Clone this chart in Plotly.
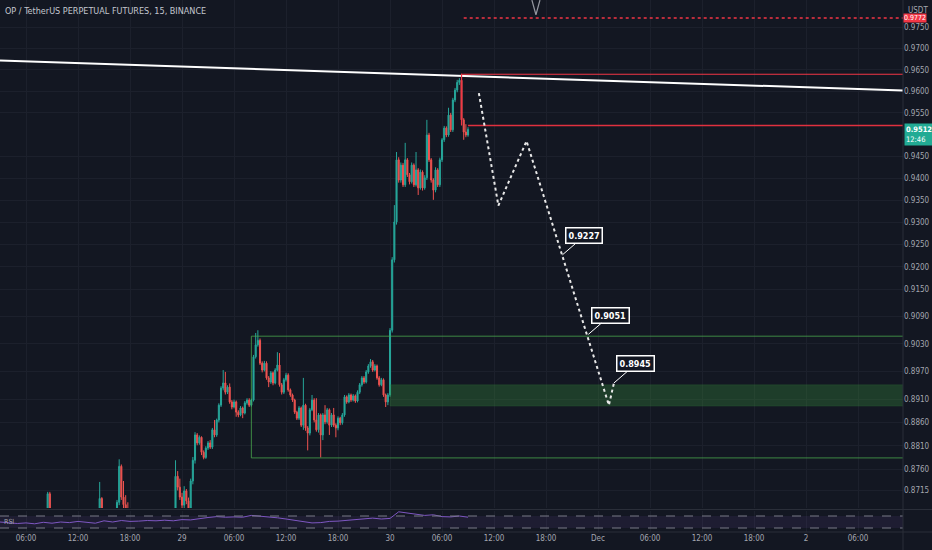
import numpy as np
import pandas as pd
import plotly.graph_objects as go
from plotly.subplots import make_subplots

# OPUSDT perp, 15m candles from 28 Nov 03:00 to 30 Nov 09:00
candle_start = "2022-11-28 03:00"
first_open = 0.8632
close = [
    0.8640, 0.8648, 0.8637, 0.8629, 0.8641, 0.8652, 0.8644, 0.8633, 0.8625, 0.8618,
    0.8630, 0.8642, 0.8636, 0.8647, 0.8655, 0.8649, 0.8640, 0.8646, 0.8652, 0.8645,
    0.8650, 0.8656, 0.8708, 0.8662, 0.8654, 0.8648, 0.8641, 0.8635, 0.8643, 0.8637,
    0.8628, 0.8620, 0.8626, 0.8634, 0.8630, 0.8639, 0.8645, 0.8638, 0.8644, 0.8651,
    0.8646, 0.8640, 0.8647, 0.8655, 0.8649, 0.8658, 0.8698, 0.8660, 0.8652, 0.8646,
    0.8653, 0.8647, 0.8655, 0.8660, 0.8690, 0.8766, 0.8701, 0.8685, 0.8672, 0.8664,
    0.8656, 0.8648, 0.8654, 0.8645, 0.8637, 0.8642, 0.8650, 0.8644, 0.8636, 0.8628,
    0.8634, 0.8641, 0.8635, 0.8643, 0.8650, 0.8645, 0.8639, 0.8646, 0.8653, 0.8660,
    0.8664, 0.8745, 0.8722, 0.8701, 0.8684, 0.8714, 0.8693, 0.8676, 0.8735, 0.8779,
    0.8833, 0.8816, 0.8828, 0.8796, 0.8785, 0.8805, 0.8816, 0.8807, 0.8844, 0.8833,
    0.8865, 0.8897, 0.8934, 0.8945, 0.8925, 0.8936, 0.8904, 0.8893, 0.8904, 0.8882,
    0.8876, 0.8891, 0.8880, 0.8902, 0.8908, 0.8897, 0.8908, 0.9002, 0.9028, 0.9038,
    0.8988, 0.8973, 0.8988, 0.8956, 0.8947, 0.8967, 0.8945, 0.8973, 0.8984, 0.8941,
    0.8925, 0.8952, 0.8962, 0.8930, 0.8919, 0.8908, 0.8882, 0.8869, 0.8891, 0.8854,
    0.8897, 0.8848, 0.8837, 0.8887, 0.8908, 0.8865, 0.8844, 0.8876, 0.8833, 0.8876,
    0.8861, 0.8887, 0.8854, 0.8876, 0.8854, 0.8848, 0.8869, 0.8859, 0.8876, 0.8915,
    0.8904, 0.8919, 0.8908, 0.8917, 0.8906, 0.8925, 0.8941, 0.8956, 0.8947, 0.8969,
    0.8982, 0.8991, 0.8973, 0.8982, 0.8956, 0.8941, 0.8952, 0.8919, 0.8904, 0.8919,
    0.9060, 0.9216, 0.9301, 0.9442, 0.9396, 0.9430, 0.9385, 0.9442, 0.9408, 0.9392,
    0.9430, 0.9385, 0.9419, 0.9378, 0.9414, 0.9378, 0.9401, 0.9499, 0.9442, 0.9396,
    0.9373, 0.9419, 0.9385, 0.9442, 0.9488, 0.9515, 0.9499, 0.9545, 0.9511, 0.9580,
    0.9603, 0.9621, 0.9626, 0.9534, 0.9506, 0.9499, 0.9512,
]
high = [
    0.8652, 0.8655, 0.8651, 0.8642, 0.8648, 0.8660, 0.8658, 0.8649, 0.8640, 0.8631,
    0.8637, 0.8650, 0.8648, 0.8655, 0.8666, 0.8661, 0.8654, 0.8657, 0.8663, 0.8660,
    0.8662, 0.8668, 0.8712, 0.8712, 0.8672, 0.8661, 0.8655, 0.8648, 0.8650, 0.8651,
    0.8642, 0.8635, 0.8633, 0.8641, 0.8645, 0.8647, 0.8653, 0.8651, 0.8655, 0.8660,
    0.8658, 0.8652, 0.8656, 0.8663, 0.8664, 0.8665, 0.8733, 0.8701, 0.8666, 0.8659,
    0.8661, 0.8660, 0.8664, 0.8670, 0.8695, 0.8781, 0.8770, 0.8735, 0.8705, 0.8690,
    0.8675, 0.8662, 0.8661, 0.8660, 0.8650, 0.8649, 0.8658, 0.8657, 0.8650, 0.8641,
    0.8640, 0.8648, 0.8647, 0.8651, 0.8658, 0.8657, 0.8651, 0.8654, 0.8662, 0.8667,
    0.8671, 0.8779, 0.8756, 0.8740, 0.8710, 0.8724, 0.8718, 0.8700, 0.8740, 0.8786,
    0.8839, 0.8837, 0.8832, 0.8830, 0.8800, 0.8809, 0.8820, 0.8822, 0.8848, 0.8865,
    0.8868, 0.8901, 0.8938, 0.8973, 0.8969, 0.8940, 0.8944, 0.8908, 0.8909, 0.8907,
    0.8886, 0.8895, 0.8894, 0.8906, 0.8912, 0.8912, 0.8911, 0.9006, 0.9054, 0.9060,
    0.9042, 0.8992, 0.8993, 0.8992, 0.8960, 0.8971, 0.8970, 0.8977, 0.9012, 0.9010,
    0.8945, 0.8956, 0.8967, 0.8966, 0.8933, 0.8922, 0.8911, 0.8885, 0.8895, 0.8894,
    0.8956, 0.8900, 0.8852, 0.8891, 0.8919, 0.8912, 0.8912, 0.8880, 0.8879, 0.8880,
    0.8897, 0.8891, 0.8890, 0.8880, 0.8891, 0.8858, 0.8873, 0.8872, 0.8880, 0.8919,
    0.8918, 0.8923, 0.8922, 0.8921, 0.8920, 0.8929, 0.8945, 0.8960, 0.8960, 0.8973,
    0.8986, 0.8997, 0.8995, 0.8986, 0.8985, 0.8960, 0.8956, 0.8955, 0.8922, 0.8923,
    0.9065, 0.9222, 0.9339, 0.9460, 0.9448, 0.9436, 0.9435, 0.9481, 0.9446, 0.9412,
    0.9436, 0.9434, 0.9460, 0.9423, 0.9420, 0.9418, 0.9407, 0.9534, 0.9504, 0.9446,
    0.9400, 0.9425, 0.9423, 0.9447, 0.9492, 0.9520, 0.9519, 0.9562, 0.9550, 0.9585,
    0.9608, 0.9627, 0.9631, 0.9641, 0.9538, 0.9524, 0.9517,
]
low = [
    0.8625, 0.8635, 0.8630, 0.8618, 0.8624, 0.8638, 0.8636, 0.8627, 0.8612, 0.8605,
    0.8612, 0.8626, 0.8628, 0.8630, 0.8642, 0.8640, 0.8633, 0.8634, 0.8641, 0.8638,
    0.8639, 0.8644, 0.8650, 0.8655, 0.8645, 0.8640, 0.8632, 0.8626, 0.8628, 0.8629,
    0.8620, 0.8611, 0.8614, 0.8619, 0.8623, 0.8625, 0.8632, 0.8631, 0.8633, 0.8640,
    0.8638, 0.8633, 0.8635, 0.8641, 0.8642, 0.8643, 0.8652, 0.8652, 0.8643, 0.8637,
    0.8640, 0.8639, 0.8641, 0.8648, 0.8655, 0.8684, 0.8695, 0.8678, 0.8665, 0.8656,
    0.8648, 0.8640, 0.8641, 0.8638, 0.8629, 0.8630, 0.8636, 0.8637, 0.8628, 0.8620,
    0.8622, 0.8629, 0.8627, 0.8630, 0.8637, 0.8638, 0.8632, 0.8634, 0.8640, 0.8645,
    0.8651, 0.8658, 0.8715, 0.8695, 0.8676, 0.8676, 0.8686, 0.8668, 0.8670, 0.8728,
    0.8772, 0.8811, 0.8812, 0.8790, 0.8781, 0.8782, 0.8801, 0.8803, 0.8803, 0.8828,
    0.8829, 0.8860, 0.8893, 0.8929, 0.8920, 0.8921, 0.8900, 0.8888, 0.8890, 0.8872,
    0.8871, 0.8873, 0.8869, 0.8877, 0.8898, 0.8893, 0.8894, 0.8905, 0.8998, 0.9024,
    0.8984, 0.8968, 0.8970, 0.8952, 0.8936, 0.8943, 0.8940, 0.8942, 0.8970, 0.8937,
    0.8920, 0.8921, 0.8948, 0.8926, 0.8915, 0.8904, 0.8878, 0.8865, 0.8865, 0.8850,
    0.8844, 0.8842, 0.8800, 0.8832, 0.8884, 0.8860, 0.8840, 0.8838, 0.8785, 0.8822,
    0.8856, 0.8857, 0.8833, 0.8850, 0.8850, 0.8828, 0.8843, 0.8854, 0.8855, 0.8872,
    0.8900, 0.8901, 0.8904, 0.8905, 0.8902, 0.8903, 0.8921, 0.8937, 0.8943, 0.8944,
    0.8965, 0.8978, 0.8969, 0.8970, 0.8952, 0.8937, 0.8938, 0.8915, 0.8893, 0.8897,
    0.8915, 0.9055, 0.9210, 0.9295, 0.9390, 0.9390, 0.9380, 0.9380, 0.9403, 0.9386,
    0.9388, 0.9380, 0.9381, 0.9362, 0.9374, 0.9372, 0.9374, 0.9396, 0.9437, 0.9390,
    0.9351, 0.9368, 0.9380, 0.9380, 0.9437, 0.9483, 0.9494, 0.9495, 0.9506, 0.9506,
    0.9575, 0.9598, 0.9615, 0.9528, 0.9488, 0.9494, 0.9495,
]

# RSI(14), hourly readings from the lower pane
rsi = [
    50, 48, 45, 47, 44, 49, 46, 50, 48, 52, 49, 46, 54, 50, 55, 52, 53, 55, 54, 56,
    54, 58, 57, 62, 65, 68, 66, 67, 66, 72, 70, 66, 64, 60, 55, 50, 47, 48, 52, 53,
    56, 58, 62, 63, 60, 62, 84, 80, 75, 72, 74, 68, 67, 70, 66,
]

# drawings on the chart
trend_t = ["2022-11-28 03:00", "2022-12-02 11:11"]
trend_p = [0.9672, 0.9602]
box_start = "2022-11-29 08:00"
box_top, box_bottom = 0.9047, 0.8784
zone_start = "2022-11-30 00:00"
zone_top, zone_bottom = 0.8941, 0.8895
far_right = "2022-12-03 00:00"
red_start = "2022-11-30 08:15"
red_low_start = "2022-11-30 09:00"
red_high, red_low = 0.9640, 0.9521
alert_start = "2022-11-30 08:30"
alert_price = 0.9772
path_t = ["2022-11-30 10:15", "2022-11-30 12:30", "2022-11-30 15:45",
          "2022-12-01 01:15", "2022-12-01 01:50"]
path_p = [0.9596, 0.9338, 0.9485, 0.8897, 0.8945]
label_t = ["2022-11-30 19:53", "2022-11-30 22:53", "2022-12-01 01:50"]
label_p = [0.9227, 0.9051, 0.8945]
marker_t = ["2022-11-30 16:22", "2022-11-30 16:50", "2022-11-30 17:18"]
marker_p = [0.9815, 0.9780, 0.9815]
last_price, countdown = 0.9512, "12:46"

price_ticks = [0.9750, 0.9700, 0.9650, 0.9600, 0.9550, 0.9450, 0.9400, 0.9350,
               0.9300, 0.9250, 0.9200, 0.9150, 0.9090, 0.9030, 0.8970, 0.8910,
               0.8860, 0.8810, 0.8760, 0.8715]
time_ticks = pd.date_range("2022-11-28 06:00", "2022-12-02 06:00", freq="6h")
time_labels = ["06:00", "12:00", "18:00", "29", "06:00", "12:00", "18:00", "30",
               "06:00", "12:00", "18:00", "Dec", "06:00", "12:00", "18:00", "2", "06:00"]
price_range = [0.8678, 0.9815]
time_range = ["2022-11-28 03:00", "2022-12-02 11:11"]

BG = "#131722"
GRID = "#1c202c"
TXT = "#a3a6af"
FONT = "Liberation Sans Narrow, DejaVu Sans Condensed, sans-serif"
UP, DOWN = "#26a69a", "#ef5350"
RED = "#f23645"

t = pd.date_range(candle_start, periods=len(close), freq="15min")
opens = [first_open] + close[:-1]
rsi_t = pd.date_range(candle_start, periods=len(rsi), freq="1h")

fig = make_subplots(rows=2, cols=1, shared_xaxes=True)

fig.add_trace(
    go.Candlestick(
        x=t, open=opens, high=high, low=low, close=close,
        increasing=dict(line=dict(color=UP, width=1), fillcolor=UP),
        decreasing=dict(line=dict(color=DOWN, width=1), fillcolor=DOWN),
        whiskerwidth=0, hoverinfo="skip",
    ),
    row=1, col=1,
)

# green range box and demand zone
fig.add_trace(go.Scatter(
    x=[far_right, box_start, box_start, far_right],
    y=[box_top, box_top, box_bottom, box_bottom],
    mode="lines", line=dict(color="rgba(76,175,80,0.75)", width=1),
), row=1, col=1)
fig.add_trace(go.Scatter(
    x=[zone_start, far_right, far_right, zone_start, zone_start],
    y=[zone_top, zone_top, zone_bottom, zone_bottom, zone_top],
    mode="lines", fill="toself", fillcolor="rgba(56,142,60,0.32)",
    line=dict(color="rgba(56,142,60,0.2)", width=1),
), row=1, col=1)

# trendline
fig.add_trace(go.Scatter(x=trend_t, y=trend_p, mode="lines",
                         line=dict(color="#ffffff", width=2)), row=1, col=1)

# red levels
fig.add_trace(go.Scatter(
    x=[far_right, red_start, red_start], y=[red_high, red_high, red_low],
    mode="lines", line=dict(color=RED, width=1.2),
), row=1, col=1)
fig.add_trace(go.Scatter(
    x=[red_low_start, far_right], y=[red_low, red_low],
    mode="lines", line=dict(color="#e0303f", width=1.6),
), row=1, col=1)
fig.add_trace(go.Scatter(
    x=[alert_start, far_right], y=[alert_price, alert_price],
    mode="lines", line=dict(color=RED, width=1.5, dash="dot"),
), row=1, col=1)

# projected path
fig.add_trace(go.Scatter(x=path_t, y=path_p, mode="lines",
                         line=dict(color="#e8e8e8", width=2, dash="dot")), row=1, col=1)

# top marker
fig.add_trace(go.Scatter(x=marker_t, y=marker_p, mode="lines",
                         line=dict(color="#9598a1", width=1.2)), row=1, col=1)

# RSI
fig.add_trace(go.Scatter(x=rsi_t, y=rsi, mode="lines",
                         line=dict(color="#7e57c2", width=1)), row=2, col=1)

fig.add_hrect(y0=30, y1=70, fillcolor="rgba(126,87,194,0.1)", line_width=0, row=2, col=1)
for lvl in (30, 70):
    fig.add_hline(y=lvl, line=dict(color="#787b86", width=1, dash="dash"), row=2, col=1)

for lt, lp in zip(label_t, label_p):
    fig.add_annotation(
        x=lt, y=np.log10(lp), xref="x", yref="y",
        text=f"<b>{lp:.4f}</b>", font=dict(color="#ffffff", size=9, family=FONT),
        bgcolor=BG, bordercolor="#ffffff", borderwidth=1.5, borderpad=2,
        showarrow=True, arrowhead=0, arrowwidth=1, arrowcolor="#ffffff",
        ax=22, ay=-19,
    )

fig.add_annotation(
    x=0, y=1, xref="paper", yref="paper", xanchor="left", yanchor="top",
    xshift=3, yshift=-4, showarrow=False,
    text="OP / TetherUS PERPETUAL FUTURES, 15, BINANCE",
    font=dict(color="#c3c6ce", size=9, family=FONT),
)
fig.add_annotation(
    x=1, y=1, xref="paper", yref="paper", xanchor="left", yanchor="top",
    xshift=3, yshift=-4, showarrow=False, text="USDT",
    font=dict(color=TXT, size=8, family=FONT),
)
fig.add_annotation(
    x=1, y=np.log10(alert_price), xref="paper", yref="y", xanchor="left",
    showarrow=False, text=f"{alert_price:.4f}", bgcolor=RED,
    borderpad=0, font=dict(color="#ffffff", size=7, family=FONT),
)
fig.add_annotation(
    x=1, y=np.log10(last_price), xref="paper", yref="y", xanchor="left",
    xshift=1, yshift=-5, showarrow=False,
    text=f"<b>{last_price:.4f}</b><br>{countdown}",
    bgcolor="#22ab94", borderpad=1, align="left",
    font=dict(color="#ffffff", size=7.5, family=FONT),
)
fig.add_annotation(
    x=0, y=0.5, xref="paper", yref="y2 domain", xanchor="left",
    xshift=2, showarrow=False, text="RSI",
    font=dict(color=TXT, size=7, family=FONT),
)

total_h = 532
fig.update_layout(
    width=932, height=550,
    margin=dict(l=0, r=29, t=0, b=18),
    paper_bgcolor=BG, plot_bgcolor=BG,
    showlegend=False,
    font=dict(family=FONT, color=TXT, size=8),
    xaxis=dict(rangeslider=dict(visible=False)),
    yaxis=dict(domain=[24 / total_h, 1]),
    yaxis2=dict(domain=[0, 21 / total_h]),
)
fig.update_xaxes(
    type="date", range=time_range, showgrid=True, gridcolor=GRID, gridwidth=1,
    tickvals=time_ticks, ticktext=time_labels, zeroline=False,
    showline=False, ticks="", tickfont=dict(size=8, color=TXT),
)
fig.update_xaxes(showticklabels=False, row=1, col=1)
fig.update_yaxes(
    type="log", range=list(np.log10(price_range)), side="right",
    tickvals=price_ticks, ticktext=[f"{v:.4f}" for v in price_ticks],
    showgrid=True, gridcolor=GRID, zeroline=False, ticks="",
    tickfont=dict(size=8, color=TXT), row=1, col=1,
)
fig.update_yaxes(range=[16.7, 86.7], showgrid=False, showticklabels=False,
                 zeroline=False, row=2, col=1)

# pane separators and price-scale border
fig.add_shape(type="line", xref="paper", yref="paper", x0=1, x1=1, y0=-0.04, y1=1,
              line=dict(color="#2a2e39", width=1))
fig.add_shape(type="line", xref="paper", yref="paper", x0=0, x1=1.04,
              y0=22.5 / total_h, y1=22.5 / total_h, line=dict(color="#2a2e39", width=1))
fig.add_shape(type="line", xref="paper", yref="paper", x0=0, x1=1.04, y0=0, y1=0,
              line=dict(color="#2a2e39", width=1))

fig.write_html(
    "out.html",
    config={"displayModeBar": False},
    post_script="document.body.style.margin='0';document.body.style.background='#131722';",
)
